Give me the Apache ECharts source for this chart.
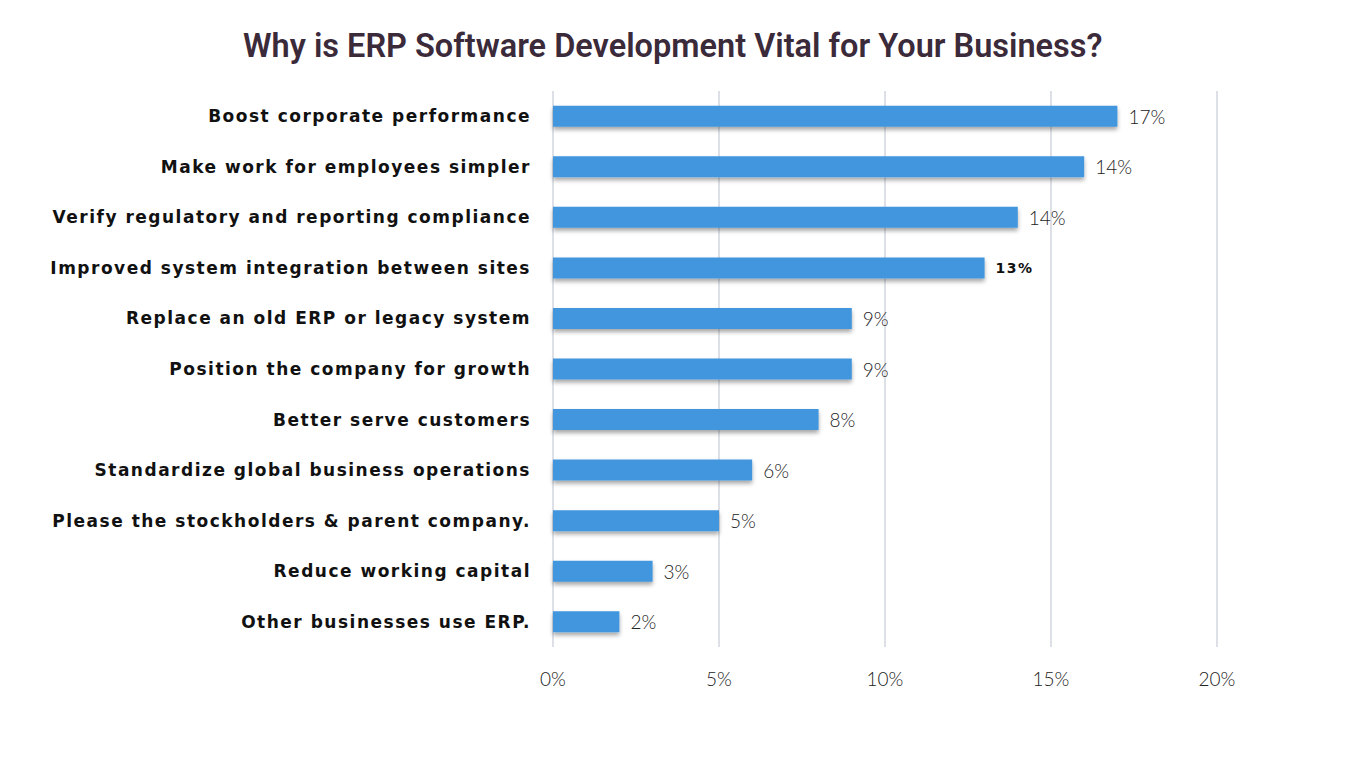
<!DOCTYPE html>
<html><head><meta charset="utf-8">
<script src="https://cdn.jsdelivr.net/npm/echarts@6/dist/echarts.min.js"></script>
<style>
html,body{margin:0;padding:0;background:#fff}
#c{width:1366px;height:768px}
#c text[style*="DejaVu"], #c text[font-family*="DejaVu"]{letter-spacing:1.5px}
</style>
</head><body><div id="c"></div>
<script>
const categories = [
  "Boost corporate performance",
  "Make work for employees simpler",
  "Verify regulatory and reporting compliance",
  "Improved system integration between sites",
  "Replace an old ERP or legacy system",
  "Position the company for growth",
  "Better serve customers",
  "Standardize global business operations",
  "Please the stockholders & parent company.",
  "Reduce working capital",
  "Other businesses use ERP."
];
const barValues = [17, 16, 14, 13, 9, 9, 8, 6, 5, 3, 2];
const valueLabels = ["17%", "14%", "14%", "13%", "9%", "9%", "8%", "6%", "5%", "3%", "2%"];
const tickLabels = ["0%", "5%", "10%", "15%", "20%"];

const chart = echarts.init(document.getElementById('c'), null, {renderer: 'svg'});
chart.setOption({
  backgroundColor: '#ffffff',
  animation: false,
  title: {
    text: 'Why is ERP Software Development Vital for Your Business?',
    left: 238, top: 24,
    textStyle: {fontFamily: 'Roboto', fontWeight: 600, fontSize: 32.5, color: '#3b2a3a'}
  },
  grid: {left: 553, right: 149, top: 91, bottom: 121, containLabel: false},
  xAxis: {
    type: 'value', min: 0, max: 20, interval: 5,
    axisLine: {show: false}, axisTick: {show: false},
    splitLine: {lineStyle: {color: '#dde1e7', width: 2}},
    axisLabel: {
      margin: 22, color: '#222', fontFamily: 'Lato', fontWeight: 300, fontSize: 19,
      formatter: (v) => tickLabels[v / 5]
    }
  },
  yAxis: {
    type: 'category', data: categories, inverse: true,
    axisLine: {show: false}, axisTick: {show: false},
    axisLabel: {margin: 22, color: '#111', fontFamily: 'DejaVu Sans', fontWeight: 'bold', fontSize: 17}
  },
  series: [{
    type: 'bar',
    data: barValues.map((v, i) => i === 3
      ? {value: v, label: {fontFamily: 'DejaVu Sans', fontWeight: 'bold', fontSize: 14, color: '#111'}}
      : v),
    barWidth: 21,
    itemStyle: {color: '#4296de', shadowColor: 'rgba(0,0,0,0.35)', shadowBlur: 4, shadowOffsetY: 3},
    label: {
      show: true, position: 'right', distance: 11,
      fontFamily: 'Lato', fontWeight: 300, fontSize: 19, color: '#222',
      formatter: (p) => valueLabels[p.dataIndex]
    }
  }]
});
</script></body></html>
